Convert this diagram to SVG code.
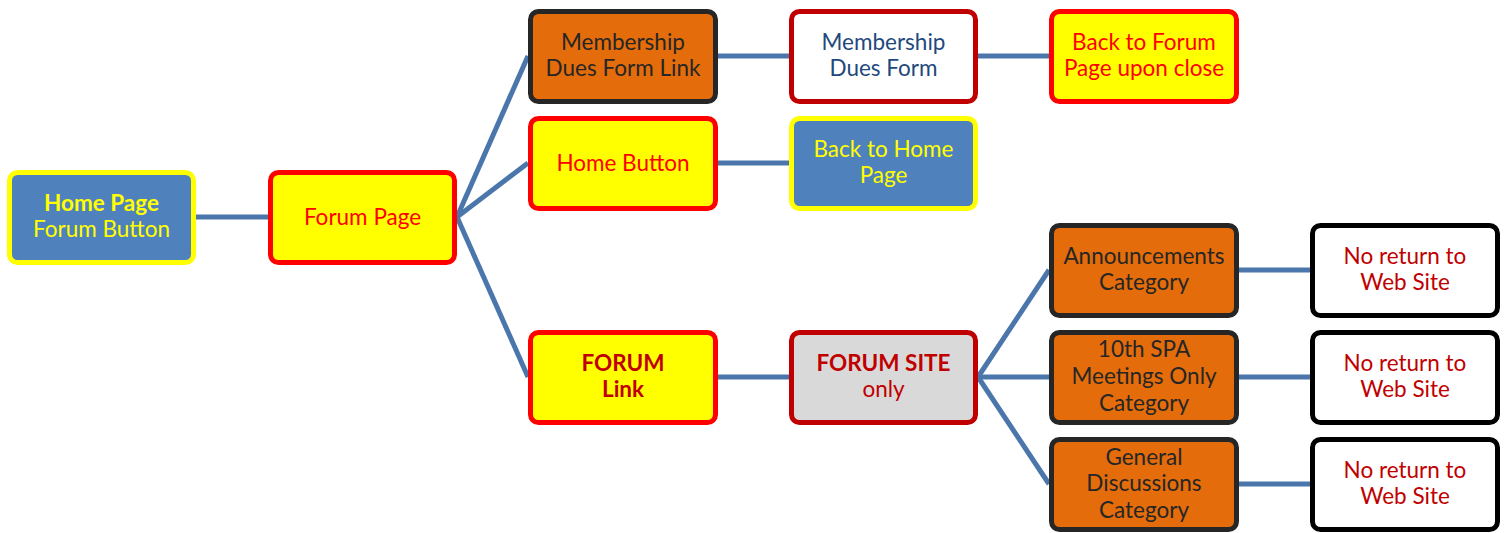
<svg xmlns="http://www.w3.org/2000/svg" width="1505" height="533" viewBox="0 0 1505 533">
<style>
rect{stroke-width:5}
.b{fill:#4F81BD;stroke:#FFFF00}
.y{fill:#FFFF00;stroke:#FF0000}
.o{fill:#E46C0A;stroke:#262626}
.w{fill:#FFFFFF;stroke:#C00000}
.g{fill:#D9D9D9;stroke:#C00000}
.k{fill:#FFFFFF;stroke:#000000}
text{font-family:Lato,"Open Sans",sans-serif;font-size:22.5px;text-anchor:middle}
.ty{fill:#FFFF00}
.tr{fill:#FF0000}
.td{fill:#262626}
.tn{fill:#1F497D}
.tc{fill:#C00000}
.bold{font-weight:bold}
#connectors line{stroke:#4A76AC;stroke-width:5}
</style>
<g id="connectors">
<line x1="196" y1="217" x2="268" y2="217"/>
<line x1="457" y1="217" x2="528" y2="56"/>
<line x1="457" y1="217" x2="528" y2="163"/>
<line x1="457" y1="217" x2="528" y2="377"/>
<line x1="718" y1="56" x2="789" y2="56"/>
<line x1="978" y1="56" x2="1049" y2="56"/>
<line x1="718" y1="163" x2="789" y2="163"/>
<line x1="718" y1="377" x2="789" y2="377"/>
<line x1="978" y1="377" x2="1049" y2="270"/>
<line x1="978" y1="377" x2="1049" y2="377"/>
<line x1="978" y1="377" x2="1049" y2="484"/>
<line x1="1239" y1="270" x2="1310" y2="270"/>
<line x1="1239" y1="377" x2="1310" y2="377"/>
<line x1="1239" y1="484" x2="1310" y2="484"/>
</g>
<g id="home-page">
<rect class="b" x="9.5" y="172.5" width="184" height="90" rx="8"/>
<text x="101.5" y="211" class="ty bold">Home Page</text>
<text x="101.5" y="237" class="ty">Forum Button</text>
</g>
<g id="forum-page">
<rect class="y" x="270.5" y="172.5" width="184" height="90" rx="8"/>
<text x="362.5" y="225" class="tr">Forum Page</text>
</g>
<g id="membership-link">
<rect class="o" x="530.5" y="11.5" width="185" height="90" rx="8"/>
<text x="623" y="50" class="td">Membership</text>
<text x="623" y="76" class="td">Dues Form Link</text>
</g>
<g id="membership-form">
<rect class="w" x="791.5" y="11.5" width="184" height="90" rx="8"/>
<text x="883.5" y="50" class="tn">Membership</text>
<text x="883.5" y="76" class="tn">Dues Form</text>
</g>
<g id="back-to-forum">
<rect class="y" x="1051.5" y="11.5" width="185" height="90" rx="8"/>
<text x="1144" y="50" class="tr">Back to Forum</text>
<text x="1144" y="76" class="tr">Page upon close</text>
</g>
<g id="home-button">
<rect class="y" x="530.5" y="118.5" width="185" height="90" rx="8"/>
<text x="623" y="171" class="tr">Home Button</text>
</g>
<g id="back-to-home">
<rect class="b" x="791.5" y="118.5" width="184" height="90" rx="8"/>
<text x="883.5" y="157" class="ty">Back to Home</text>
<text x="883.5" y="183" class="ty">Page</text>
</g>
<g id="forum-link">
<rect class="y" x="530.5" y="332.5" width="185" height="90" rx="8"/>
<text x="623" y="371" class="tc bold">FORUM</text>
<text x="623" y="397" class="tc bold">Link</text>
</g>
<g id="forum-site">
<rect class="g" x="791.5" y="332.5" width="184" height="90" rx="8"/>
<text x="883.5" y="371" class="tc bold">FORUM SITE</text>
<text x="883.5" y="397" class="tc">only</text>
</g>
<g id="announcements">
<rect class="o" x="1051.5" y="225.5" width="185" height="90" rx="8"/>
<text x="1144" y="264" class="td">Announcements</text>
<text x="1144" y="290" class="td">Category</text>
</g>
<g id="meetings">
<rect class="o" x="1051.5" y="332.5" width="185" height="90" rx="8"/>
<text x="1144" y="357" class="td">10th SPA</text>
<text x="1144" y="384" class="td">Meetings Only</text>
<text x="1144" y="411" class="td">Category</text>
</g>
<g id="general">
<rect class="o" x="1051.5" y="439.5" width="185" height="90" rx="8"/>
<text x="1144" y="465" class="td">General</text>
<text x="1144" y="491" class="td">Discussions</text>
<text x="1144" y="518" class="td">Category</text>
</g>
<g id="no-return-1">
<rect class="k" x="1312.5" y="225.5" width="185" height="90" rx="8"/>
<text x="1405" y="264" class="tc">No return to</text>
<text x="1405" y="290" class="tc">Web Site</text>
</g>
<g id="no-return-2">
<rect class="k" x="1312.5" y="332.5" width="185" height="90" rx="8"/>
<text x="1405" y="371" class="tc">No return to</text>
<text x="1405" y="397" class="tc">Web Site</text>
</g>
<g id="no-return-3">
<rect class="k" x="1312.5" y="439.5" width="185" height="90" rx="8"/>
<text x="1405" y="478" class="tc">No return to</text>
<text x="1405" y="504" class="tc">Web Site</text>
</g>
</svg>
